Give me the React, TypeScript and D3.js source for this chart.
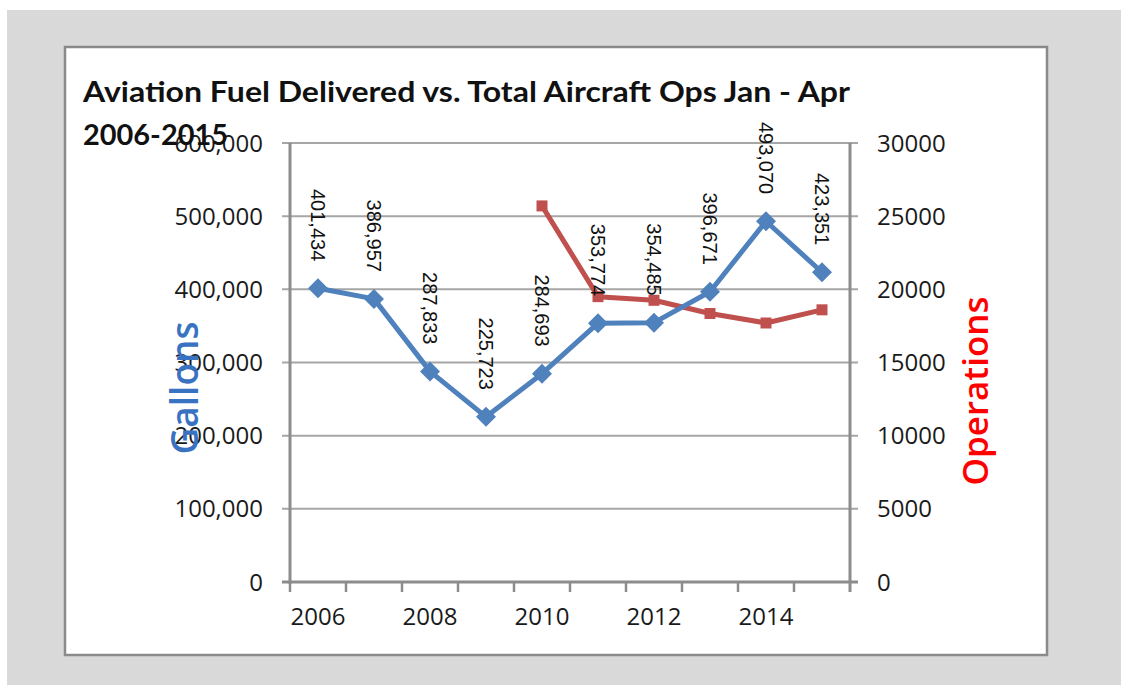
import React from "react";
import * as d3 from "d3";

const years = ["2006", "2007", "2008", "2009", "2010", "2011", "2012", "2013", "2014", "2015"];
const gallons = [401434, 386957, 287833, 225723, 284693, 353774, 354485, 396671, 493070, 423351];
const operations: (number | null)[] = [null, null, null, null, 25700, 19500, 19250, 18350, 17700, 18600];
const leftTicks = [0, 100000, 200000, 300000, 400000, 500000, 600000];
const rightTicks = [0, 5000, 10000, 15000, 20000, 25000, 30000];
const xLabelYears = ["2006", "2008", "2010", "2012", "2014"];
const titleLines = ["Aviation Fuel Delivered vs. Total Aircraft Ops Jan - Apr", "2006-2015"];

const W = 1121;
const H = 685;
const L = 290, R = 850, T = 143, B = 582;

export default function App() {
  const x = d3.scaleBand<string>().domain(years).range([L, R]).padding(0);
  const cx = (y: string) => (x(y) as number) + x.bandwidth() / 2;
  const yL = d3.scaleLinear().domain([0, 600000]).range([B, T]);
  const yR = d3.scaleLinear().domain([0, 30000]).range([B, T]);
  const fmt = d3.format(",");

  const fuelLine = d3
    .line<number>()
    .x((_, i) => cx(years[i]))
    .y((d) => yL(d));
  const opsData = operations
    .map((v, i) => ({ v, year: years[i] }))
    .filter((d) => d.v !== null) as { v: number; year: string }[];
  const opsLine = d3
    .line<{ v: number; year: string }>()
    .x((d) => cx(d.year))
    .y((d) => yR(d.v));

  const gridColor = "#a6a6a6";
  const axisColor = "#8c8c8c";
  const tickFont = "'Open Sans', sans-serif";

  return (
    <svg width={W} height={H} style={{ position: "absolute", left: 0, top: 0 }}>
      <rect x={0} y={0} width={W} height={H} fill="#ffffff" />
      <rect x={7} y={10} width={W - 7} height={H - 10} fill="#d9d9d9" />
      <rect x={65} y={47} width={982} height={608} fill="#ffffff" stroke="#8a8a8a" strokeWidth={2.5} />

      {/* gridlines */}
      {leftTicks.map((t) => (
        <line key={"g" + t} x1={L - 8} x2={R + 8} y1={yL(t)} y2={yL(t)} stroke={gridColor} strokeWidth={2} />
      ))}
      {/* axes */}
      <line x1={L} x2={L} y1={T} y2={B + 2} stroke={axisColor} strokeWidth={3} />
      <line x1={R} x2={R} y1={T} y2={B + 10} stroke={axisColor} strokeWidth={3} />
      <line x1={L - 8} x2={R + 8} y1={B} y2={B} stroke={axisColor} strokeWidth={3} />
      {years.map((yv) => (
        <line key={"xt" + yv} x1={x(yv)} x2={x(yv)} y1={B} y2={B + 10} stroke={axisColor} strokeWidth={2.5} />
      ))}

      {/* left tick labels */}
      {leftTicks.map((t) => (
        <text key={"lt" + t} x={263} y={yL(t)} dy="0.36em" textAnchor="end" fontFamily={tickFont} fontSize={24} fill="#1a1a1a">
          {fmt(t)}
        </text>
      ))}
      {/* right tick labels */}
      {rightTicks.map((t) => (
        <text key={"rt" + t} x={877} y={yR(t)} dy="0.36em" textAnchor="start" fontFamily={tickFont} fontSize={24} fill="#1a1a1a">
          {t}
        </text>
      ))}
      {/* x labels */}
      {xLabelYears.map((yv) => (
        <text key={"xl" + yv} x={cx(yv)} y={625} textAnchor="middle" fontFamily={tickFont} fontSize={24} fill="#1a1a1a">
          {yv}
        </text>
      ))}

      {/* axis titles */}
      <text
        transform={`translate(${198},${388}) rotate(-90)`}
        textAnchor="middle"
        fontFamily={tickFont}
        fontWeight={600}
        fontSize={37}
        fill="#3a72c2"
      >
        Gallons
      </text>
      <text
        transform={`translate(${988},${391}) rotate(-90)`}
        textAnchor="middle"
        fontFamily={tickFont}
        fontWeight={600}
        fontSize={35}
        fill="#ff0000"
      >
        Operations
      </text>

      {/* ops line */}
      <path d={opsLine(opsData) || ""} fill="none" stroke="#c0504d" strokeWidth={5} strokeLinejoin="round" />
      {opsData.map((d) => (
        <rect key={"os" + d.year} x={cx(d.year) - 5.5} y={yR(d.v) - 5.5} width={11} height={11} fill="#c0504d" />
      ))}

      {/* fuel line */}
      <path d={fuelLine(gallons) || ""} fill="none" stroke="#4f81bd" strokeWidth={5} strokeLinejoin="round" />
      {gallons.map((g, i) => {
        const px = cx(years[i]);
        const py = yL(g);
        const s = 10;
        return (
          <path key={"fd" + i} d={`M${px},${py - s}L${px + s},${py}L${px},${py + s}L${px - s},${py}Z`} fill="#4f81bd" />
        );
      })}

      {/* data labels */}
      {gallons.map((g, i) => {
        const px = cx(years[i]);
        const py = yL(g);
        return (
          <text
            key={"dl" + i}
            transform={`translate(${px - 7},${py - 27}) rotate(90)`}
            textAnchor="end"
            fontFamily="'Liberation Sans', Arial, sans-serif"
            fontSize={20}
            fill="#111"
          >
            {fmt(g)}
          </text>
        );
      })}

      {/* title */}
      <text x={83} y={102} fontFamily="Lato, sans-serif" fontWeight="bold" fontSize={28} fill="#111" textLength={767} lengthAdjust="spacingAndGlyphs">
        {titleLines[0]}
      </text>
      <text x={83} y={145} fontFamily="Lato, sans-serif" fontWeight="bold" fontSize={28} fill="#111" textLength={145} lengthAdjust="spacingAndGlyphs">
        {titleLines[1]}
      </text>
    </svg>
  );
}
